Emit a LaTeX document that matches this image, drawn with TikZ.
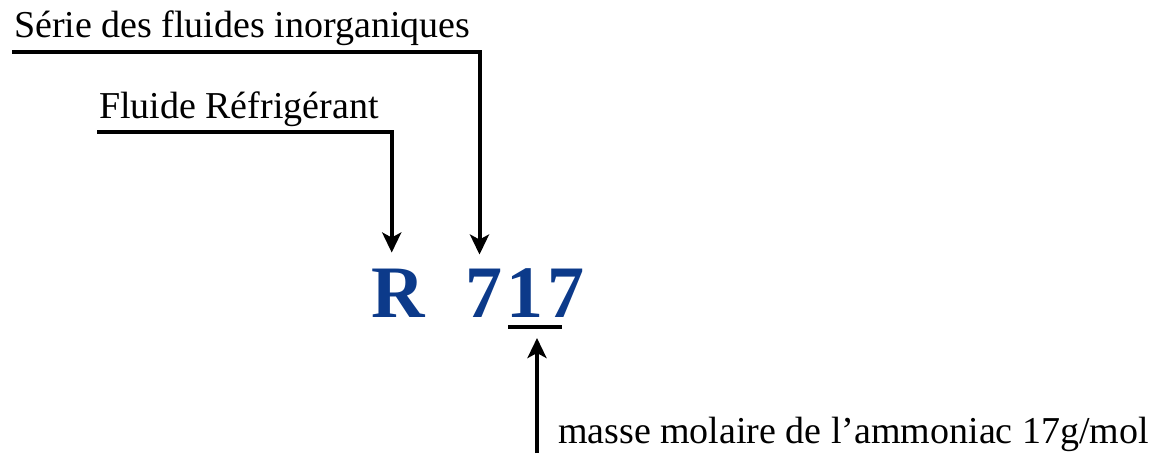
\documentclass[tikz,border=0pt]{standalone}
\usepackage{fontspec}
\setmainfont{Liberation Serif}
\usetikzlibrary{arrows.meta,positioning}
\definecolor{codeblue}{RGB}{12,58,138}

\begin{document}
\begin{tikzpicture}[x=1pt,y=-1pt,line width=4pt,
  every node/.append style={inner sep=0pt},
  >={Stealth[length=20pt,width=19pt,inset=5pt]}]
  \tikzstyle{word} = [font=\fontsize{38}{40}\selectfont,color=black,anchor=base west]
  \tikzstyle{code} = [font=\fontsize{74}{76}\selectfont\bfseries,color=codeblue,anchor=base west]
  \useasboundingbox (0,0) rectangle (1151,453);
  % texts
  \node (1_1) [word] at (12,37) {Série des fluides inorganiques};
  \node (1_2) [word] at (97,118) {Fluide Réfrigérant};
  \node (1_3) [word] at (556,443) {masse molaire de l’ammoniac 17g/mol};
  % R 717
  \node (2_1) [code] at (369,317) {R};
  \node (2_2) [code] at (463,317) {7};
  \node (2_3) [code,right=0pt of 2_2.base east,anchor=base west] {1};
  \node (2_4) [code,right=0pt of 2_3.base east,anchor=base west] {7};
  % coordinates
  \coordinate (3_1) at (12,52);
  \coordinate (3_2) at (97,132);
  \coordinate (3_3) at (537,453);
  \coordinate (3_4) at (508,327);
  \coordinate (3_5) at (562,327);
  % connectors
  \draw[->,shorten >=12pt] (3_1) -| ([xshift=-4pt]2_2.north);
  \draw[->,shorten >=14pt] (3_2) -| ([xshift=-6pt]2_1.north);
  \draw (3_4) -- (3_5);
  \draw[->,shorten >=11pt] (3_3) -- (3_3 |- 3_4);
\end{tikzpicture}
\end{document}
